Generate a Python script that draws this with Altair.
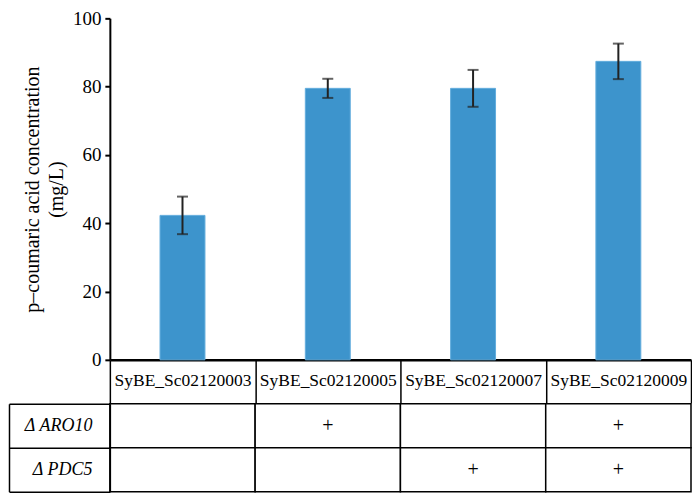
import altair as alt
import pandas as pd

strains = ["SyBE_Sc02120003", "SyBE_Sc02120005", "SyBE_Sc02120007", "SyBE_Sc02120009"]
conc = [42.3, 79.5, 79.5, 87.4]
err = [5.5, 2.8, 5.4, 5.2]
rows = ["Δ ARO10", "Δ PDC5"]
aro10 = ["", "+", "", "+"]
pdc5 = ["", "", "+", "+"]
y_ticks = [0, 20, 40, 60, 80, 100]

bars_df = pd.DataFrame({
    "strain": strains,
    "conc": conc,
    "lo": [c - e for c, e in zip(conc, err)],
    "hi": [c + e for c, e in zip(conc, err)],
})
table_df = pd.DataFrame([
    {"strain": s, "row": r, "mark": m}
    for r, marks in zip(rows, [aro10, pdc5])
    for s, m in zip(strains, marks)
])

FONT = "Liberation Serif, Times New Roman, serif"
W = 582

xscale = alt.Scale(domain=strains, paddingInner=0, paddingOuter=0)
yscale = alt.Scale(domain=[0, 100])

xaxis = alt.Axis(title=None, labelAngle=0, tickBand="extent", tickSize=43,
                 tickColor="black", tickWidth=1.5, domainColor="black",
                 domainWidth=2.5, labelFont=FONT, labelFontSize=17.5,
                 labelColor="black", labelPadding=-31, minExtent=0, maxExtent=43)
yaxis = alt.Axis(values=y_ticks, grid=False,
                 title=["p\u2013coumaric acid concentration", "(mg/L)"],
                 titleFont=FONT, titleFontSize=20, titleFontWeight="normal",
                 titleColor="black", titleLineHeight=24, titlePadding=6,
                 labelFont=FONT, labelFontSize=19, labelColor="black",
                 labelPadding=4, tickSize=5, tickWidth=2, tickColor="black",
                 domainColor="black", domainWidth=2)

X = alt.X("strain:N", scale=xscale, sort=strains, axis=xaxis)

base = alt.Chart(bars_df)
bars = base.mark_bar(size=45, color="#3D94CC", stroke="#62ADDD", strokeWidth=1).encode(
    x=X, y=alt.Y("conc:Q", scale=yscale, axis=yaxis))
rule = base.mark_rule(color="#222222", strokeWidth=2).encode(
    x=X, y=alt.Y("lo:Q", scale=yscale, axis=yaxis), y2="hi:Q")
cap_lo = base.mark_tick(color="#222222", size=11, thickness=2).encode(
    x=X, y=alt.Y("lo:Q", scale=yscale, axis=yaxis))
cap_hi = base.mark_tick(color="#222222", size=11, thickness=2).encode(
    x=X, y=alt.Y("hi:Q", scale=yscale, axis=yaxis))

top = alt.layer(bars, rule, cap_lo, cap_hi).properties(width=W, height=342)

rowscale = alt.Scale(domain=rows, paddingInner=0, paddingOuter=0)
Xb = alt.X("strain:N", scale=xscale, sort=strains, axis=None)

cells = alt.Chart(table_df).mark_rect(fill="white", stroke="black", strokeWidth=1.5).encode(
    x=Xb,
    y=alt.Y("row:N", sort=rows, scale=rowscale,
            axis=alt.Axis(title=None, tickBand="extent", tickSize=101,
                          tickColor="black", tickWidth=1.5, domainColor="black",
                          domainWidth=1.5, labelFont=FONT, labelFontSize=18,
                          labelFontStyle="italic", labelColor="black",
                          labelPadding=-83)))
plus = alt.Chart(table_df).mark_text(font=FONT, fontSize=20, color="black").encode(
    x=Xb,
    y=alt.Y("row:N", sort=rows, scale=rowscale,
            axis=alt.Axis(orient="left", offset=101, labels=False, ticks=False,
                          domain=True, domainColor="black", domainWidth=1.5,
                          title=None)),
    text="mark:N")

bottom = alt.layer(cells, plus).resolve_scale(y="independent").properties(width=W, height=88)

chart = alt.vconcat(top, bottom, spacing=-10).properties(
    padding={"left": 0, "top": 1, "right": 0, "bottom": 0}
).configure_view(stroke=None)

chart.save("out.html", embed_options={"renderer": "svg", "actions": False})
